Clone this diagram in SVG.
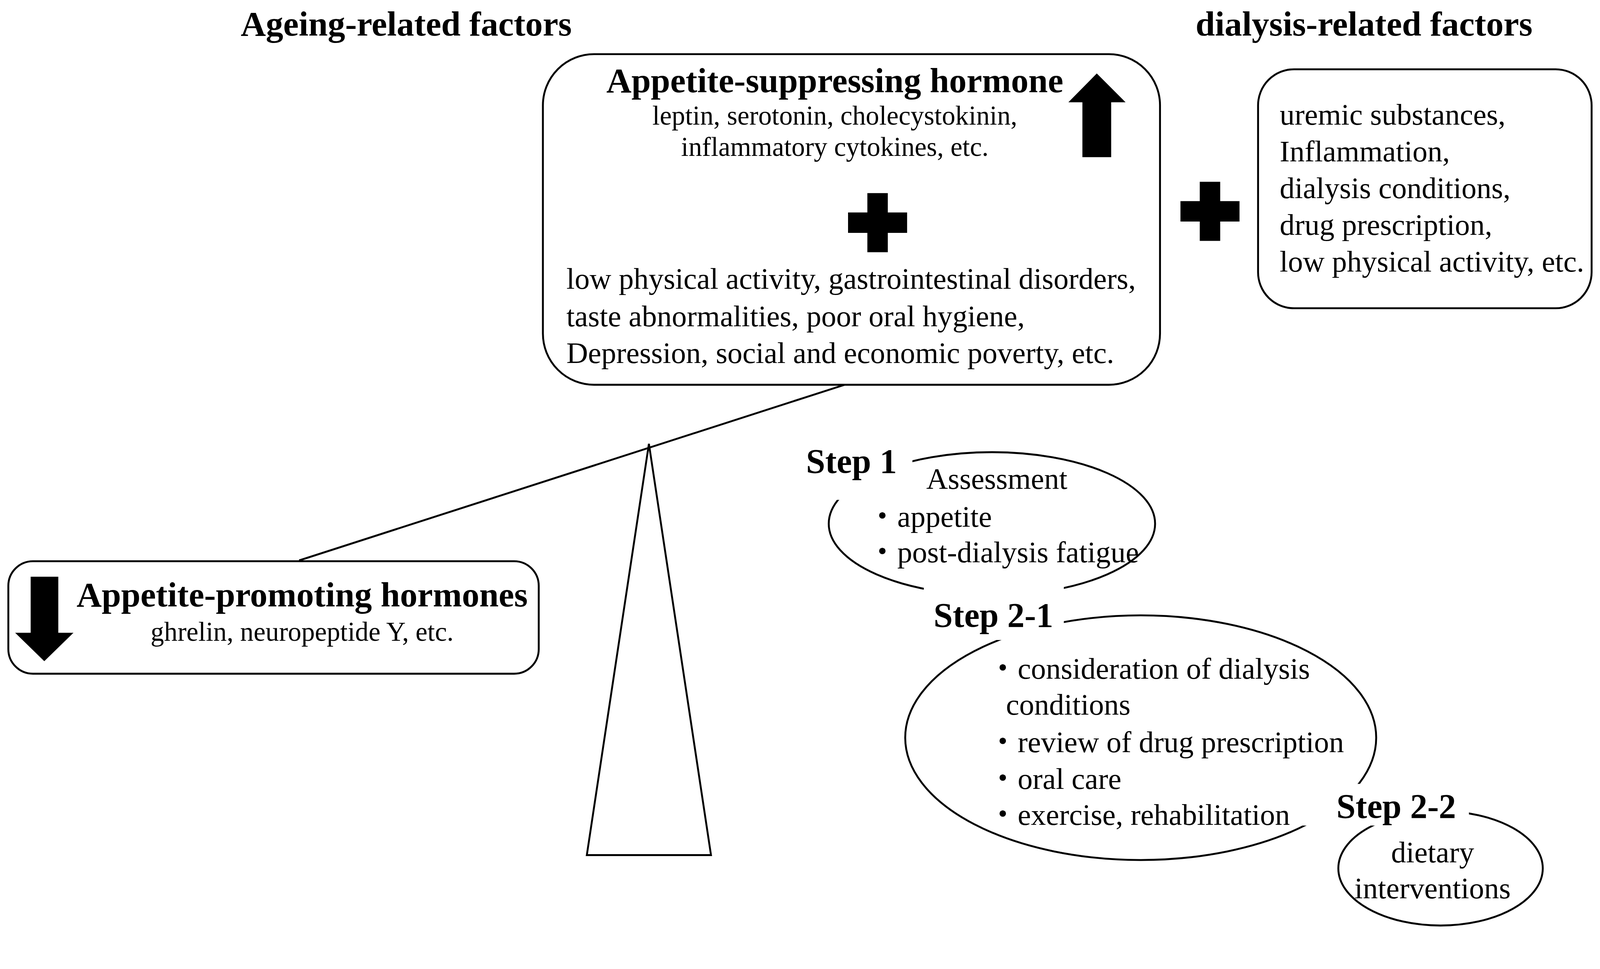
<svg xmlns="http://www.w3.org/2000/svg" width="4226" height="2480" viewBox="0 0 4226 2480">
<style>
.b{font-family:"Liberation Serif","Noto Sans CJK JP",serif;font-weight:bold;font-size:92px;fill:#000}
.st{font-family:"Liberation Serif","Noto Sans CJK JP",serif;font-weight:bold;font-size:91px;fill:#000}
.t{font-family:"Liberation Serif","Noto Sans CJK JP",serif;font-size:79px;fill:#000}
.s{font-family:"Liberation Serif","Noto Sans CJK JP",serif;font-size:71px;fill:#000}
.box{fill:#fff;stroke:#000;stroke-width:5}
.ln{fill:none;stroke:#000;stroke-width:5}
.m{fill:#fff;stroke:none}
</style>
<rect width="4226" height="2480" fill="#fff"/>
<g transform="scale(0.9692)">
<text class="b" x="1073" y="94" text-anchor="middle">Ageing-related factors</text>
<text class="b" x="3603" y="94" text-anchor="middle">dialysis-related factors</text>
<g id="connectors">
<line class="ln" x1="790" y1="1480" x2="2231" y2="1016"/>
<polygon class="ln" points="1714,1172 1550,2258 1878,2258" fill="#fff"/>
</g>
<g id="ageing">
<rect class="box" x="1434" y="143" width="1630" height="873" rx="135"/>
<text class="b" x="2205" y="243" text-anchor="middle">Appetite-suppressing hormone</text>
<text class="s" x="2205" y="329" text-anchor="middle">leptin, serotonin, cholecystokinin,</text>
<text class="s" x="2205" y="412" text-anchor="middle">inflammatory cytokines, etc.</text>
<polygon points="2897,194 2973,270 2935,270 2935,415 2859,415 2859,270 2822,270" fill="#000"/>
<path d="M2291,510h54v51h51v54h-51v51h-54v-51h-51v-54h51z" fill="#000"/>
<text class="t" x="1496" y="763">low physical activity, gastrointestinal disorders,</text>
<text class="t" x="1496" y="862">taste abnormalities, poor oral hygiene,</text>
<text class="t" x="1496" y="959">Depression, social and economic poverty, etc.</text>
</g>
<g id="plus"><path d="M3169,480h54v51h51v54h-51v51h-54v-51h-51v-54h51z" fill="#000"/></g>
<g id="dialysis">
<rect class="box" x="3323" y="183" width="881" height="631" rx="95"/>
<text class="t" x="3380" y="329">uremic substances,</text>
<text class="t" x="3380" y="426">Inflammation,</text>
<text class="t" x="3380" y="523">dialysis conditions,</text>
<text class="t" x="3380" y="620">drug prescription,</text>
<text class="t" x="3380" y="717">low physical activity, etc.</text>
</g>
<g id="promoting">
<rect class="box" x="22" y="1482" width="1401" height="297" rx="65"/>
<polygon points="81,1523 154,1523 154,1671 194,1671 117,1746 40,1671 81,1671" fill="#000"/>
<text class="b" x="798" y="1601" text-anchor="middle">Appetite-promoting hormones</text>
<text class="s" x="798" y="1692" text-anchor="middle">ghrelin, neuropeptide Y, etc.</text>
</g>
<g id="step1">
<ellipse class="ln" cx="2620" cy="1383" rx="431" ry="189"/>
</g>
<g id="step21">
<ellipse class="ln" cx="3013" cy="1948" rx="622" ry="323"/>
</g>
<g id="step22">
<ellipse class="ln" cx="3805" cy="2293" rx="270" ry="151"/>
</g>
<g id="masks">
<rect class="m" x="2110" y="1170" width="300" height="150"/>
<rect class="m" x="2440" y="1540" width="370" height="150"/>
<rect class="m" x="3440" y="2070" width="440" height="110"/>
<rect class="m" x="3490" y="2180" width="60" height="40"/>
</g>
<g id="labels">
<text class="st" x="2129" y="1248">Step 1</text>
<text class="t" x="2633" y="1291" text-anchor="middle">Assessment</text>
<text class="t" x="2291" y="1391">・appetite</text>
<text class="t" x="2291" y="1485">・post-dialysis fatigue</text>
<text class="st" x="2466" y="1655">Step 2-1</text>
<text class="t" x="2609" y="1792">・consideration of dialysis</text>
<text class="t" x="2657" y="1887">conditions</text>
<text class="t" x="2609" y="1986">・review of drug prescription</text>
<text class="t" x="2609" y="2083">・oral care</text>
<text class="t" x="2609" y="2178">・exercise, rehabilitation</text>
<text class="st" x="3530" y="2159">Step 2-2</text>
<text class="t" x="3784" y="2277" text-anchor="middle">dietary</text>
<text class="t" x="3784" y="2372" text-anchor="middle">interventions</text>
</g>
</g>
</svg>
